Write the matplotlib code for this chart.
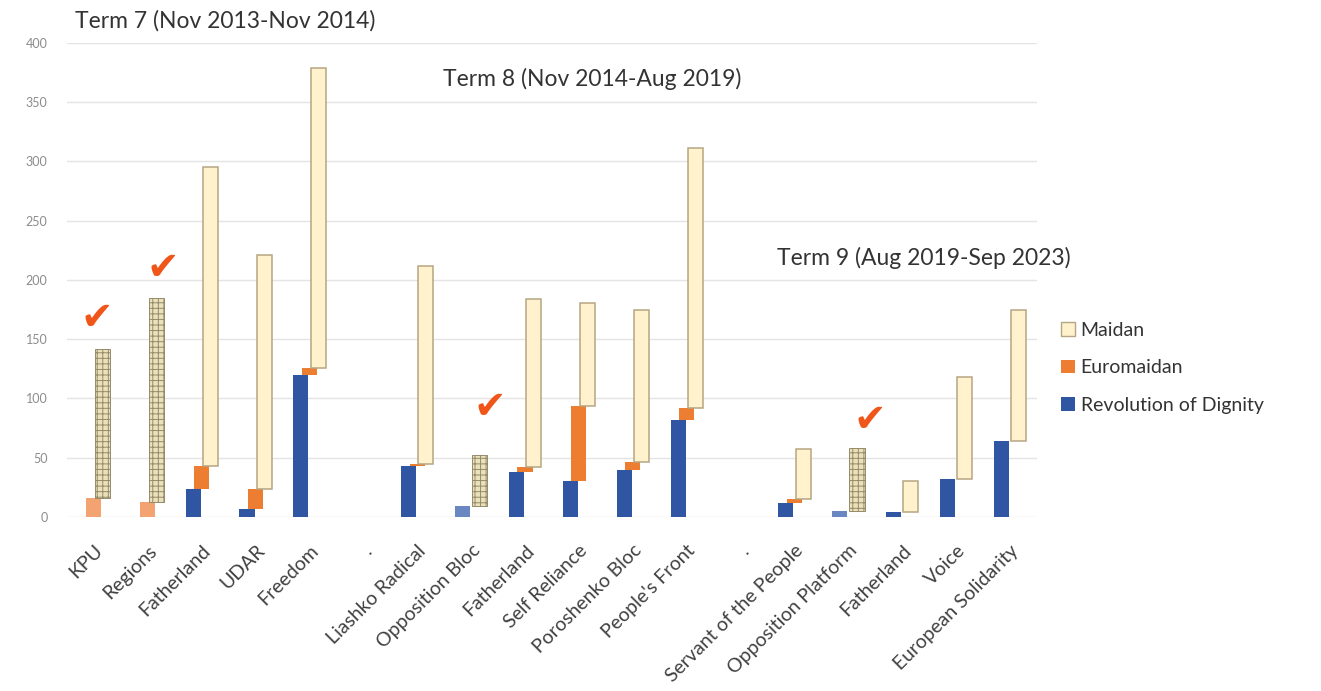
import numpy as np
import matplotlib
matplotlib.use('Agg')
import matplotlib.pyplot as plt
from matplotlib.patches import Patch
from matplotlib.transforms import ScaledTranslation

plt.rcParams['font.family'] = ['Lato', 'DejaVu Sans']
plt.rcParams['hatch.linewidth'] = 0.7

parties = ['KPU', 'Regions', 'Fatherland', 'UDAR', 'Freedom', '.',
           'Liashko Radical', 'Opposition Bloc', 'Fatherland', 'Self Reliance',
           'Poroshenko Bloc', "People's Front", '.',
           'Servant of the People', 'Opposition Platform', 'Fatherland', 'Voice',
           'European Solidarity']
revolution = [0, 0, 24, 7, 120, 0, 43, 9, 38, 30, 40, 82, 0, 12, 5, 4, 32, 64]
euromaidan = [16, 13, 19, 17, 6, 0, 2, 0, 4, 64, 6, 10, 0, 3, 0, 0, 0, 0]
maidan = [126, 172, 252, 197, 253, 0, 167, 43, 142, 87, 129, 219, 0, 42, 53, 26, 86, 111]
checked = ['KPU', 'Regions', 'Opposition Bloc', 'Opposition Platform']

blue = '#2F55A3'
blue_pale = '#6A87C2'
orange = '#ED7D31'
orange_pale = '#F3A271'
cream = '#FFF2CC'
cream_edge = '#B5A582'
check_col = '#F0561A'

rev = np.array(revolution)
euro = np.array(euromaidan)
mai = np.array(maidan)
x = np.arange(len(parties))
is_chk = np.array([p in checked for p in parties])

fig = plt.figure(figsize=(13.21, 6.91), dpi=100)
ax = fig.add_axes([0.0507, 0.2518, 0.7343, 0.686])

w = 0.28
d = 0.16
ax.bar(x - d, rev, w, bottom=0, color=np.where(is_chk, blue_pale, blue), zorder=3)
ax.bar(x, euro, w, bottom=rev, color=np.where(is_chk, orange_pale, orange), zorder=3)
for i in range(len(x)):
    if mai[i] == 0:
        continue
    if is_chk[i]:
        ax.bar(x[i] + d, mai[i], w, bottom=rev[i] + euro[i], color='#EAE0BA',
               edgecolor='#958B6A', hatch='+++', linewidth=0.7, zorder=3)
    else:
        ax.bar(x[i] + d, mai[i], w, bottom=rev[i] + euro[i], color=cream,
               edgecolor=cream_edge, linewidth=1.1, zorder=3)

# check marks above the highlighted parties
chk_dx = {'KPU': 0.05, 'Regions': 0.28, 'Opposition Bloc': 0.35, 'Opposition Platform': 0.4}
chk_dy = {'KPU': 26, 'Regions': 25, 'Opposition Bloc': 41, 'Opposition Platform': 24}
for i, p in enumerate(parties):
    if is_chk[i]:
        top = rev[i] + euro[i] + mai[i]
        ax.text(x[i] + chk_dx[p], top + chk_dy[p], '\u2714', color=check_col,
                fontsize=28, ha='center', va='center', family='DejaVu Sans', zorder=4)

ax.set_xlim(-0.5, len(parties) - 0.5)
ax.set_ylim(0, 400)
ax.set_yticks(np.arange(0, 401, 50))
ax.grid(axis='y', color='#E4E4E4', linewidth=1, zorder=0)
for s in ax.spines.values():
    s.set_visible(False)
ax.tick_params(axis='both', length=0)
ax.tick_params(axis='y', labelsize=9, labelcolor='#8C8C8C', pad=14)
ax.set_xticks(x)
ax.set_xticklabels(parties, rotation=45, ha='right', va='center', rotation_mode='anchor',
                   fontsize=14, color='#404040')
shift = ScaledTranslation(6 / 100, -26 / 100, fig.dpi_scale_trans)
for lab in ax.get_xticklabels():
    lab.set_transform(lab.get_transform() + shift)

ax.text(-0.35, 419, 'Term 7 (Nov 2013-Nov 2014)', fontsize=16.5, color='#333333',
        va='center', ha='left', clip_on=False)
ax.text(6.47, 370, 'Term 8 (Nov 2014-Aug 2019)', fontsize=16.5, color='#333333',
        va='center', ha='left')
ax.text(12.67, 218.5, 'Term 9 (Aug 2019-Sep 2023)', fontsize=16.5, color='#333333',
        va='center', ha='left')

handles = [Patch(facecolor=cream, edgecolor=cream_edge, label='Maidan'),
           Patch(facecolor=orange, label='Euromaidan'),
           Patch(facecolor=blue, label='Revolution of Dignity')]
fig.legend(handles=handles, loc='center left', bbox_to_anchor=(0.79, 0.468),
           frameon=False, fontsize=14, handlelength=0.7, handleheight=0.7,
           handletextpad=0.3, labelspacing=1.05, labelcolor='#333333')

fig.savefig('out.png', dpi=100)
